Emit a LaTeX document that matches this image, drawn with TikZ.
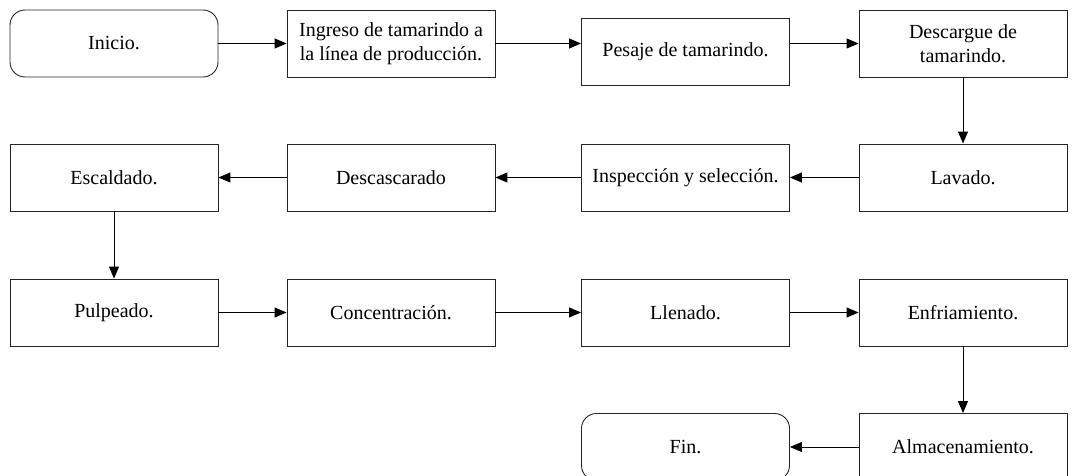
\documentclass[tikz,border=0pt]{standalone}
\usepackage{fontspec}
\setmainfont{Liberation Serif}
\usetikzlibrary{arrows.meta}

\tikzset{
	paso/.style={draw=black!85, line width=0.9pt, minimum width=208pt, minimum height=67pt,
		inner sep=0pt, align=center, font=\fontsize{20}{24}\selectfont},
	terminal/.style={paso, rounded corners=15pt},
	flecha/.style={line width=1pt, -{Triangle[length=12pt,width=10pt]}}
}

\begin{document}
\begin{tikzpicture}[x=1pt,y=-1pt]
	% marco de la figura
	\useasboundingbox (0,0) rectangle (1076,476);
	\clip (0,0) rectangle (1076,476);
	% primera fila
	\node[terminal] (inicio) at (114,43.5) {Inicio.};
	\node[paso] (ingreso) at (391,43.5) {Ingreso de tamarindo a\\la línea de producción.};
	\node[paso] (pesaje) at (685.5,52) {Pesaje de tamarindo.};
	\node[paso] (descargue) at (963,43.5) {Descargue de\\tamarindo.};
	% segunda fila
	\node[paso] (lavado) at (963,177.5) {Lavado.};
	\node[paso] (inspeccion) at (685.5,177.5) {Inspección y selección.};
	\node[paso] (descascarado) at (391,177.5) {Descascarado};
	\node[paso] (escaldado) at (114,177.5) {Escaldado.};
	% tercera fila
	\node[paso] (pulpeado) at (114,312.5) {Pulpeado.};
	\node[paso] (concentracion) at (391,312.5) {Concentración.};
	\node[paso] (llenado) at (685.5,312.5) {Llenado.};
	\node[paso] (enfriamiento) at (963,312.5) {Enfriamiento.};
	% cuarta fila
	\node[paso] (almacenamiento) at (963,447) {Almacenamiento.};
	\node[terminal] (fin) at (685.5,447) {Fin.};
	% conexiones
	\draw[flecha] (inicio) -- (ingreso);
	\draw[flecha] (ingreso.east) -- (ingreso.east -| pesaje.west);
	\draw[flecha] (pesaje.east |- descargue.west) -- (descargue.west);
	\draw[flecha] (descargue) -- (lavado);
	\draw[flecha] (lavado) -- (inspeccion);
	\draw[flecha] (inspeccion) -- (descascarado);
	\draw[flecha] (descascarado) -- (escaldado);
	\draw[flecha] (escaldado) -- (pulpeado);
	\draw[flecha] (pulpeado) -- (concentracion);
	\draw[flecha] (concentracion) -- (llenado);
	\draw[flecha] (llenado) -- (enfriamiento);
	\draw[flecha] (enfriamiento) -- (almacenamiento);
	\draw[flecha] (almacenamiento) -- (fin);
\end{tikzpicture}
\end{document}
